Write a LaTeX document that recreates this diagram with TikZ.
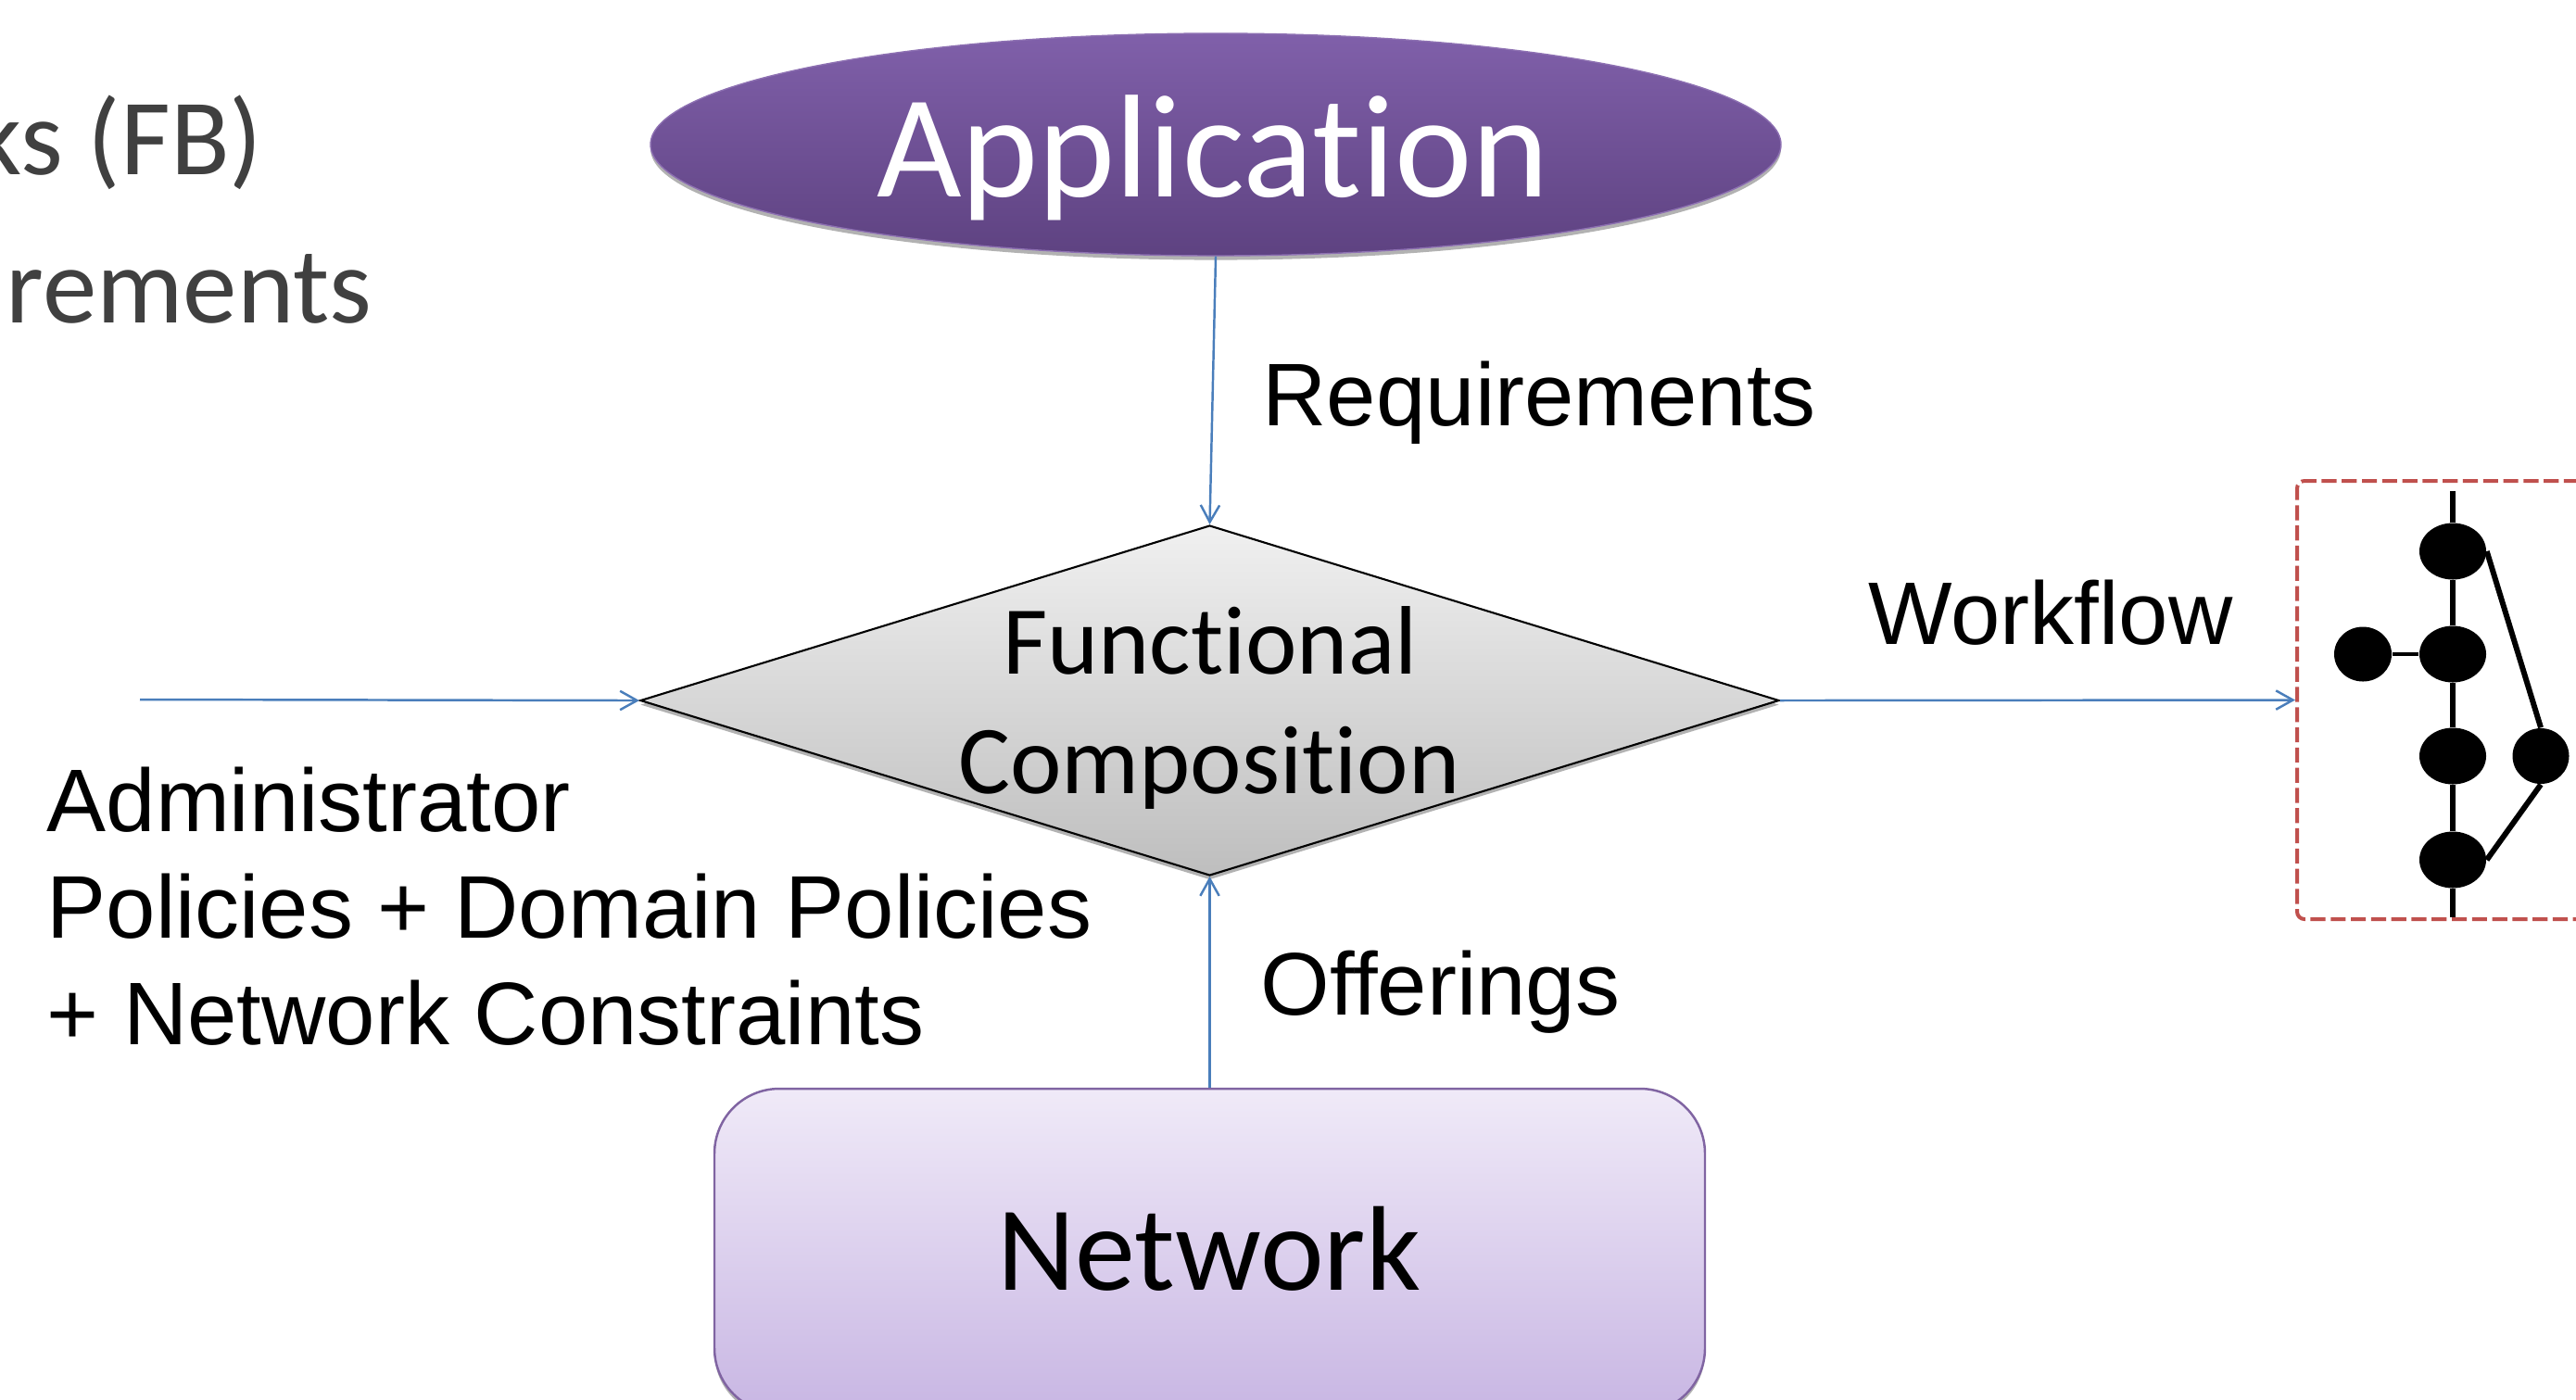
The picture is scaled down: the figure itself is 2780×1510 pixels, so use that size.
\documentclass[tikz,border=0pt]{standalone}
\usepackage{fontspec}
\newfontfamily\arialf{Liberation Sans}
\newfontfamily\calibrif{Carlito}[Ligatures={NoCommon,NoContextual}]
\usetikzlibrary{shapes.geometric,arrows.meta,shadows}
\definecolor{arrowblue}{HTML}{4A7EBB}
\definecolor{apptop}{HTML}{8060AA}
\definecolor{appbot}{HTML}{5E4281}
\definecolor{nettop}{HTML}{F0EAF8}
\definecolor{netbot}{HTML}{C8B6E3}
\definecolor{netborder}{HTML}{8064A2}
\definecolor{diatop}{HTML}{F0F0F0}
\definecolor{diabot}{HTML}{BEBEBE}
\definecolor{wfred}{HTML}{C0504D}
\definecolor{graytext}{HTML}{404040}
\begin{document}
\begin{tikzpicture}[x=0.1mm,y=-0.1mm,
  conn/.style={draw=arrowblue, line width=0.7pt,
    -{Straight Barb[length=5.2pt,width=5.8pt,line width=0.7pt]}},
  softshadow/.style={drop shadow={shadow xshift=0pt, shadow yshift=-1.3pt, opacity=0.3, fill=black}},
  appshape/.style={ellipse, inner sep=0pt, minimum width=122mm, minimum height=24mm,
    top color=apptop, bottom color=appbot, draw=apptop!90, line width=0.4pt, softshadow},
  diashape/.style={diamond, inner sep=0pt, minimum width=122.9mm, minimum height=37.8mm,
    top color=diatop, bottom color=diabot, draw=black, line width=0.6pt, softshadow},
  netshape/.style={rectangle, rounded corners=7mm, inner sep=0pt, minimum width=106.9mm,
    minimum height=35mm, top color=nettop, bottom color=netbot, draw=netborder, line width=0.7pt, softshadow},
  wfshape/.style={rectangle, rounded corners=0.8mm, inner sep=0pt, minimum width=42.1mm,
    minimum height=47.3mm, draw=wfred, line width=1.15pt, dash pattern=on 4.6pt off 1.6pt},
  gdot/.style={ellipse, fill=black, inner sep=0pt, minimum width=7.2mm, minimum height=6.1mm},
  gline/.style={draw=black, line width=1.7pt},
  lbl/.style={inner sep=0pt, font=\arialf\fontsize{27.3}{32}\selectfont, text=black},
  cal/.style={inner sep=0pt, font=\calibrif\fontsize{29.9}{37}\selectfont, text=black},
  bg/.style={inner sep=0pt, font=\calibrif\fontsize{33.3}{40}\selectfont, text=graytext}
]
\useasboundingbox (0,0) rectangle (2780,1510);
\clip (0,0) rectangle (2780,1510);

% background slide text
\node[bg, anchor=base west] (bg1) at (-30,188) {ks (FB)};
\node[bg, anchor=base west] (bg2) at (6,348) {rements};

% main shapes
\node[appshape] (app) at (1312,156) {};
\node[inner sep=0pt, text=white, font=\calibrif\fontsize{45}{54}\selectfont, anchor=base] (apptext) at (1309,212) {Application};

\node[diashape] (dia) at (1305.5,756) {};
\node[cal, anchor=base] (func1) at (1306,727) {Functional};
\node[cal, anchor=base] (func2) at (1305,856) {Composition};

\node[netshape] (net) at (1305.5,1350) {};
\node[inner sep=0pt, text=black, font=\calibrif\fontsize{37}{44}\selectfont, anchor=base] (nettext) at (1305,1392) {Network};

\node[wfshape] (wf) at (2689.5,755.5) {};

% workflow graph
\node[gdot] (g1) at (2647,595) {};
\node[gdot] (g2) at (2647,706) {};
\node[gdot] (g3) at (2647,816) {};
\node[gdot] (g4) at (2647,928) {};
\node[gdot, minimum width=6.2mm, minimum height=5.9mm] (gl) at (2550,706) {};
\node[gdot, minimum width=6.1mm, minimum height=6.0mm] (gr) at (2742,816) {};
\coordinate (gtop) at (2647,530);
\coordinate (gbot) at (2647,990);
\draw[gline] (gtop) -- (g1) -- (g2) -- (g3) -- (g4) -- (gbot);
\draw[gline, line width=1.1pt] (gl) -- (g2);
\draw[gline] (g1.east) -- (gr.north);
\draw[gline] (gr.south) -- (g4.east);

% connectors
\coordinate (leftin) at (151,755);
\draw[conn] (app.south) -- (dia.north);
\draw[conn] (leftin) -- (dia.west);
\draw[conn] (dia.east) -- (wf.west);
\draw[conn] (net.north) -- (dia.south);

% labels
\node[lbl, anchor=base west] (req) at (1362,459) {Requirements};
\node[lbl, anchor=base west] (wflbl) at (2016,695) {Workflow};
\node[lbl, anchor=base west] (off) at (1360,1095) {Offerings};
\node[lbl, anchor=base west] (adm1) at (50,897) {Administrator};
\node[lbl, anchor=base west] (adm2) at (50,1012) {Policies + Domain Policies};
\node[lbl, anchor=base west] (adm3) at (50,1127) {+ Network Constraints};
\end{tikzpicture}
\end{document}
